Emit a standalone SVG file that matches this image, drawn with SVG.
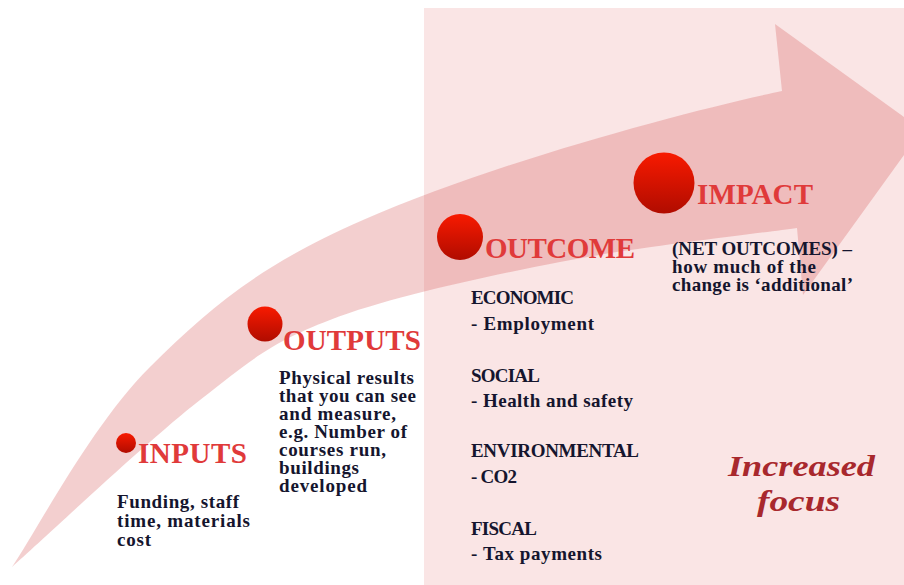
<svg xmlns="http://www.w3.org/2000/svg" width="904" height="585" viewBox="0 0 904 585">
<defs>
<style>
.lbl{font-family:"Liberation Serif","Times New Roman",serif;font-weight:bold;font-size:29px;fill:#e03a3a}
.body{font-family:"Liberation Serif","Times New Roman",serif;font-weight:bold;font-size:19px;fill:#15152e}
.focus{font-family:"Liberation Serif","Times New Roman",serif;font-weight:bold;font-style:italic;font-size:30px;fill:#a8282d}
.dot{fill:url(#dotGrad)}
</style>
<linearGradient id="dotGrad" x1="0" y1="0" x2="0" y2="1">
<stop offset="0" stop-color="#f81a00"/>
<stop offset="1" stop-color="#b00c00"/>
</linearGradient>
</defs>
<rect width="904" height="585" fill="#ffffff"/>
<rect id="focus-area" x="424" y="8" width="480" height="577" fill="#fae5e5"/>
<g id="connectors">
<path id="arrow" fill="rgb(211,77,77)" fill-opacity="0.27" d="M12,567 C35,533.7 91.5,424.8 150,367 C208.5,309.2 257.7,266 363,220 C500,160 700,108 782,91 L775,24 L922,130 L803,295 L797,228 C757.5,233.7 637.8,246.7 560,262 C482.2,277.3 390,297 330,320 C270,343 253,358.8 200,400 C147,441.2 43.3,539.2 12,567 Z"/>
</g>
<g id="inputs">
<circle class="dot" cx="126" cy="443" r="10"/>
<text class="lbl" x="138" y="463" textLength="109">INPUTS</text>
<text class="body" x="117" y="508" textLength="122">Funding, staff</text>
<text class="body" x="117" y="527" textLength="133">time, materials</text>
<text class="body" x="117" y="546" textLength="34">cost</text>
</g>
<g id="outputs">
<circle class="dot" cx="265" cy="324" r="17.5"/>
<text class="lbl" x="283" y="350" textLength="138">OUTPUTS</text>
<text class="body" x="279" y="384" textLength="135">Physical results</text>
<text class="body" x="279" y="402" textLength="137">that you can see</text>
<text class="body" x="279" y="420" textLength="117">and measure,</text>
<text class="body" x="279" y="438" textLength="128">e.g. Number of</text>
<text class="body" x="279" y="456" textLength="107">courses run,</text>
<text class="body" x="279" y="474" textLength="80">buildings</text>
<text class="body" x="279" y="492" textLength="88">developed</text>
</g>
<g id="outcome">
<circle class="dot" cx="460" cy="237" r="23"/>
<text class="lbl" x="485" y="258" textLength="150">OUTCOME</text>
<text class="body" x="471" y="304" textLength="103">ECONOMIC</text>
<text class="body" x="471" y="330" textLength="123">- Employment</text>
<text class="body" x="471" y="382" textLength="69">SOCIAL</text>
<text class="body" x="471" y="407" textLength="162">- Health and safety</text>
<text class="body" x="471" y="457" textLength="168">ENVIRONMENTAL</text>
<text class="body" x="471" y="483" textLength="46">- CO2</text>
<text class="body" x="471" y="535" textLength="66">FISCAL</text>
<text class="body" x="471" y="560" textLength="131">- Tax payments</text>
</g>
<g id="impact">
<circle class="dot" cx="664" cy="183" r="30.5"/>
<text class="lbl" x="697" y="204" textLength="116">IMPACT</text>
<text class="body" x="672" y="255" textLength="180">(NET OUTCOMES) –</text>
<text class="body" x="672" y="273" textLength="144">how much of the</text>
<text class="body" x="672" y="291" textLength="181">change is ‘additional’</text>
</g>
<g id="increased-focus">
<text class="focus" x="728" y="476" textLength="147" lengthAdjust="spacingAndGlyphs">Increased</text>
<text class="focus" x="757" y="511" textLength="83" lengthAdjust="spacingAndGlyphs">focus</text>
</g>
</svg>
